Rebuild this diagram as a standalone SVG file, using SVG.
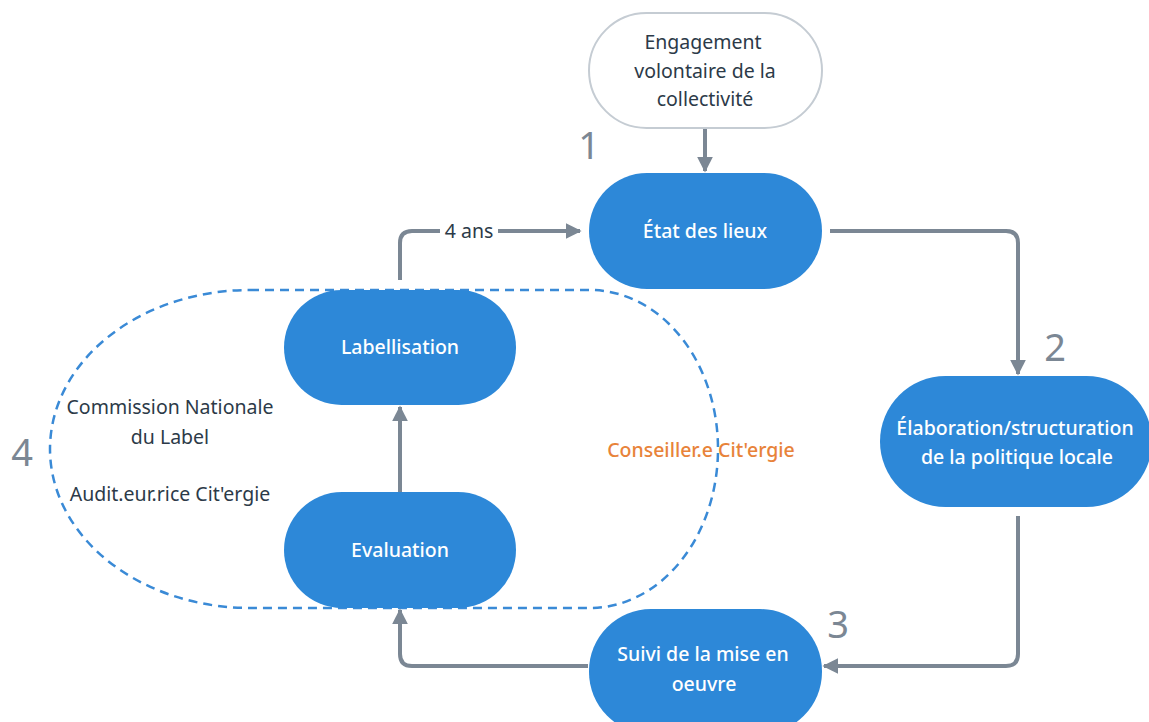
<svg xmlns="http://www.w3.org/2000/svg" width="1149" height="722" viewBox="0 0 1149 722">
<style>
.blue{fill:#2d88d8;}
.wt{fill:#ffffff;font-family:"Noto Sans",sans-serif;font-size:19.5px;font-weight:500;text-anchor:middle;}
.dt{fill:#2c3a48;font-family:"Noto Sans",sans-serif;font-size:19.5px;text-anchor:middle;}
.num{fill:#7b8794;font-family:"Noto Sans",sans-serif;font-size:38px;text-anchor:middle;}
.con{fill:none;stroke:#7b8794;stroke-width:4;marker-end:url(#ah);}
</style>
<defs>
<marker id="ah" viewBox="0 0 10 10" refX="9" refY="5" markerWidth="4" markerHeight="4" orient="auto" markerUnits="strokeWidth">
<path d="M0,0 L10,5 L0,10 z" fill="#7b8794"/>
</marker>
</defs>
<rect width="1149" height="722" fill="#ffffff"/>
<path d="M250,290 L590,290 A128,159 0 0 1 590,608 L250,608 A200,159 0 0 1 250,290 Z" fill="none" stroke="#3a8ad6" stroke-width="2.5" stroke-dasharray="9,6"/>
<g id="connectors">
<path class="con" d="M705,128 L705,171"/>
<path class="con" d="M830,231 L1006,231 Q1018,231 1018,243 L1018,374"/>
<path class="con" d="M1018,516 L1018,654 Q1018,666 1006,666 L824,666"/>
<path class="con" d="M588,666 L412,666 Q400,666 400,654 L400,610"/>
<path class="con" d="M400,492 L400,407"/>
<path class="con" d="M400,280 L400,243 Q400,231 412,231 L580,231"/>
<rect x="440" y="219" width="58" height="24" fill="#ffffff"/>
<text class="dt" x="469" y="238">4 ans</text>
</g>
<g id="engagement">
<rect x="589" y="13" width="233" height="115" rx="57.5" fill="#ffffff" stroke="#c5ccd3" stroke-width="2"/>
<text class="dt" x="703" y="49">Engagement</text>
<text class="dt" x="705" y="78">volontaire de la</text>
<text class="dt" x="705" y="106">collectivité</text>
</g>
<g id="etat">
<rect class="blue" x="589" y="173" width="233" height="116" rx="58"/>
<text class="wt" x="705" y="238">État des lieux</text>
</g>
<g id="elaboration">
<rect class="blue" x="880" y="376" width="272" height="131" rx="65.5"/>
<text class="wt" x="1015" y="435">Élaboration/structuration</text>
<text class="wt" x="1017" y="464">de la politique locale</text>
</g>
<g id="suivi">
<rect class="blue" x="589" y="609" width="233" height="125" rx="62"/>
<text class="wt" x="703" y="661">Suivi de la mise en</text>
<text class="wt" x="704" y="691">oeuvre</text>
</g>
<g id="evaluation">
<rect class="blue" x="284" y="492" width="232" height="116" rx="58"/>
<text class="wt" x="400" y="557">Evaluation</text>
</g>
<g id="labellisation">
<rect class="blue" x="284" y="290" width="232" height="115" rx="57.5"/>
<text class="wt" x="400" y="354">Labellisation</text>
</g>
<g id="labels">
<text class="dt" x="170" y="414">Commission Nationale</text>
<text class="dt" x="170" y="444">du Label</text>
<text class="dt" x="170" y="501">Audit.eur.rice Cit'ergie</text>
<text class="dt" x="701" y="457" style="fill:#e8833a;font-weight:500;">Conseiller.e  Cit'ergie</text>
<text class="num" x="589" y="159">1</text>
<text class="num" x="1055" y="361">2</text>
<text class="num" x="838" y="638">3</text>
<text class="num" x="22" y="466">4</text>
</g>
</svg>
